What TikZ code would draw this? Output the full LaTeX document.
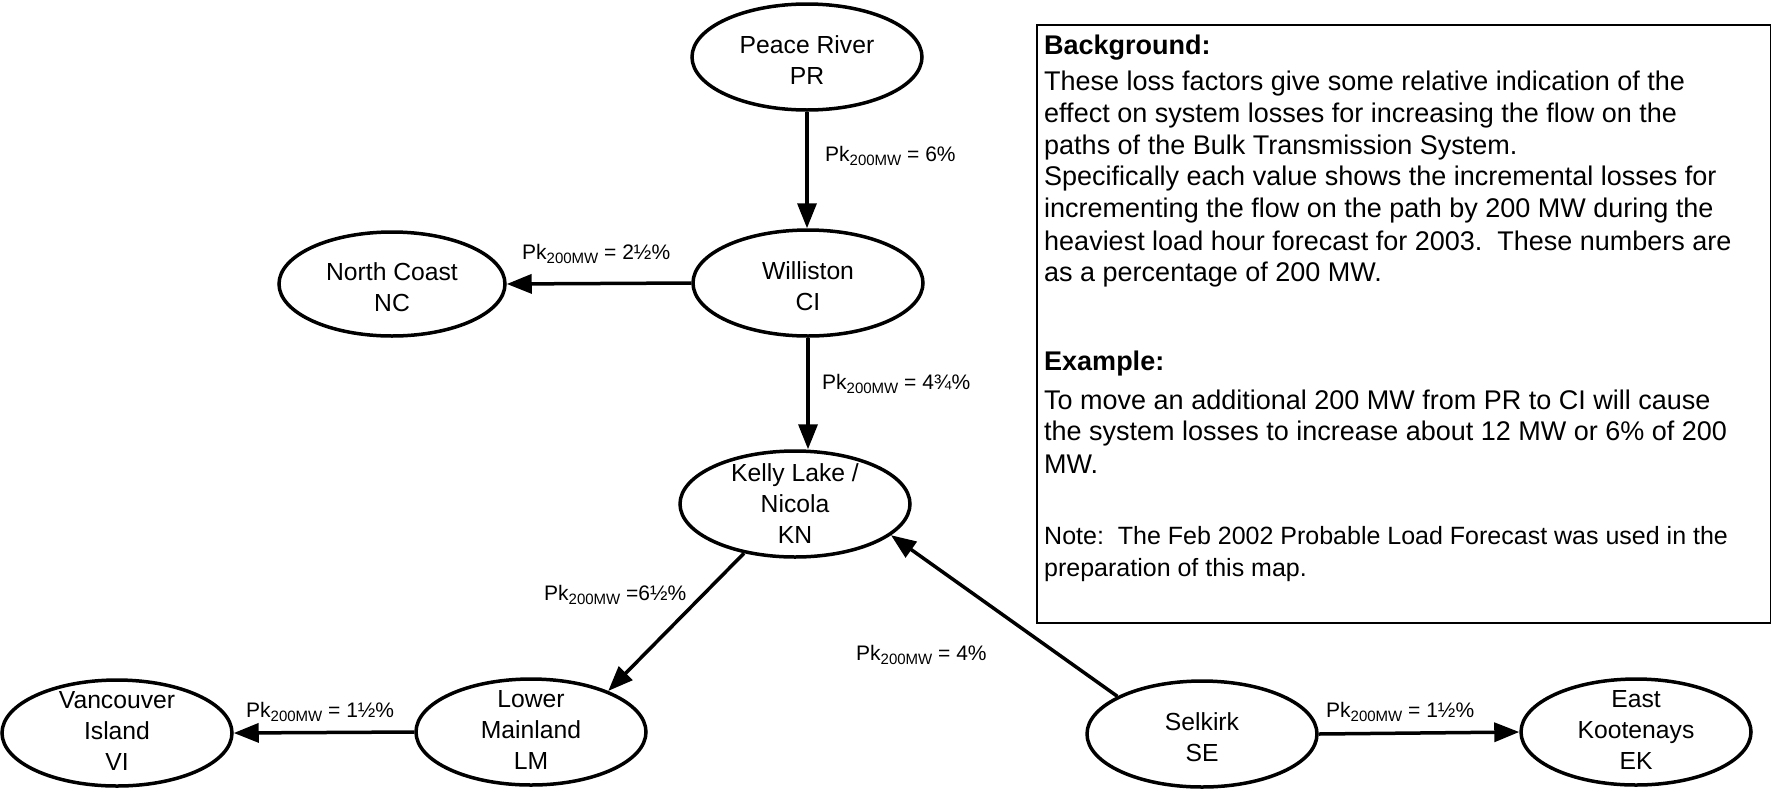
\documentclass[tikz,border=0pt]{standalone}
\usepackage{fontspec}
\setmainfont{Liberation Sans}
\usetikzlibrary{shapes.geometric,arrows.meta}
\newcommand\pkmw{Pk\raisebox{-4.5pt}{\fontsize{15}{15}\selectfont 200MW}}
\begin{document}
\begin{tikzpicture}[x=1pt,y=-1pt,
  region/.style={ellipse, draw, line width=3.5pt, minimum width=230pt, minimum height=106pt, inner sep=0pt},
  rname/.style={align=center, font=\fontsize{24.7}{31}\selectfont, inner sep=0pt},
  rname2/.style={rname, yshift=-3pt},
  rname3/.style={rname, yshift=2.5pt},
  flow/.style={line width=3.5pt, -{Triangle[length=25pt,width=19pt]}},
  lossl/.style={anchor=west, font=\fontsize{21}{21}\selectfont, inner sep=0pt},
  boxline/.style={anchor=mid west, font=\fontsize{27}{32}\selectfont, inner sep=0pt},
  noteline/.style={anchor=mid west, font=\fontsize{25}{32}\selectfont, inner sep=0pt}]
\useasboundingbox (0,0) rectangle (1771,793);
% regions
\node[region, label={[rname2]center:{Peace River\\PR}}] (PR) at (807,57) {};
\node[region, label={[rname2]center:{Williston\\CI}}] (CI) at (808,283) {};
\node[region, minimum width=226pt, minimum height=104pt, label={[rname2]center:{North Coast\\NC}}] (NC) at (392,284) {};
\node[region, label={[rname]center:{Kelly Lake /\\Nicola\\KN}}] (KN) at (795,504) {};
\node[region, label={[rname3]center:{Vancouver\\Island\\VI}}] (VI) at (117,733) {};
\node[region, label={[rname3]center:{Lower\\Mainland\\LM}}] (LM) at (531,732) {};
\node[region, label={[rname2]center:{Selkirk\\SE}}] (SE) at (1202,734) {};
\node[region, label={[rname3]center:{East\\Kootenays\\EK}}] (EK) at (1636,732) {};
% flows
\draw[flow] (PR.south) -- (PR.south |- CI.north);
\draw[flow] (CI.west) -- (NC.east);
\draw[flow] (CI.south) -- (CI.south |- KN.north);
\draw[flow] (KN.-136) -- (LM.28);
\draw[flow] (SE.156) -- (KN.-18);
\draw[flow] (LM.west) -- (VI.east);
\draw[flow] (SE.east) -- (EK.west);
% loss labels
\node[lossl] (l1) at (825,156) {\pkmw{} = 6\%};
\node[lossl] (l2) at (522,254) {\pkmw{} = 2½\%};
\node[lossl] (l3) at (822,384) {\pkmw{} = 4¾\%};
\node[lossl] (l4) at (544,595) {\pkmw{} =6½\%};
\node[lossl] (l5) at (856,655) {\pkmw{} = 4\%};
\node[lossl] (l6) at (246,712) {\pkmw{} = 1½\%};
\node[lossl] (l7) at (1326,712) {\pkmw{} = 1½\%};
% background box
\node[draw, line width=2pt, anchor=north west, minimum width=734pt, minimum height=598pt, inner sep=0pt] (bg) at (1036,24) {};
\node[boxline, font=\fontsize{27}{32}\selectfont\bfseries] (t1) at (1044,52) {Background:};
\node[boxline] (t2) at (1044,88) {These loss factors give some relative indication of the};
\node[boxline] (t3) at (1044,120) {effect on system losses for increasing the flow on the};
\node[boxline] (t4) at (1044,152) {paths of the Bulk Transmission System.};
\node[boxline] (t5) at (1044,183) {Specifically each value shows the incremental losses for};
\node[boxline] (t6) at (1044,215) {incrementing the flow on the path by 200 MW during the};
\node[boxline] (t7) at (1044,248) {heaviest load hour forecast for 2003.\ \ These numbers are};
\node[boxline] (t8) at (1044,279) {as a percentage of 200 MW.};
\node[boxline, font=\fontsize{27}{32}\selectfont\bfseries] (t9) at (1044,368) {Example:};
\node[boxline] (t10) at (1044,407) {To move an additional 200 MW from PR to CI will cause};
\node[boxline] (t11) at (1044,438) {the system losses to increase about 12 MW or 6\% of 200};
\node[boxline] (t12) at (1044,471) {MW.};
\node[noteline] (t13) at (1044,542) {Note:\ \ The Feb 2002 Probable Load Forecast was used in the};
\node[noteline] (t14) at (1044,574) {preparation of this map.};
\end{tikzpicture}
\end{document}
